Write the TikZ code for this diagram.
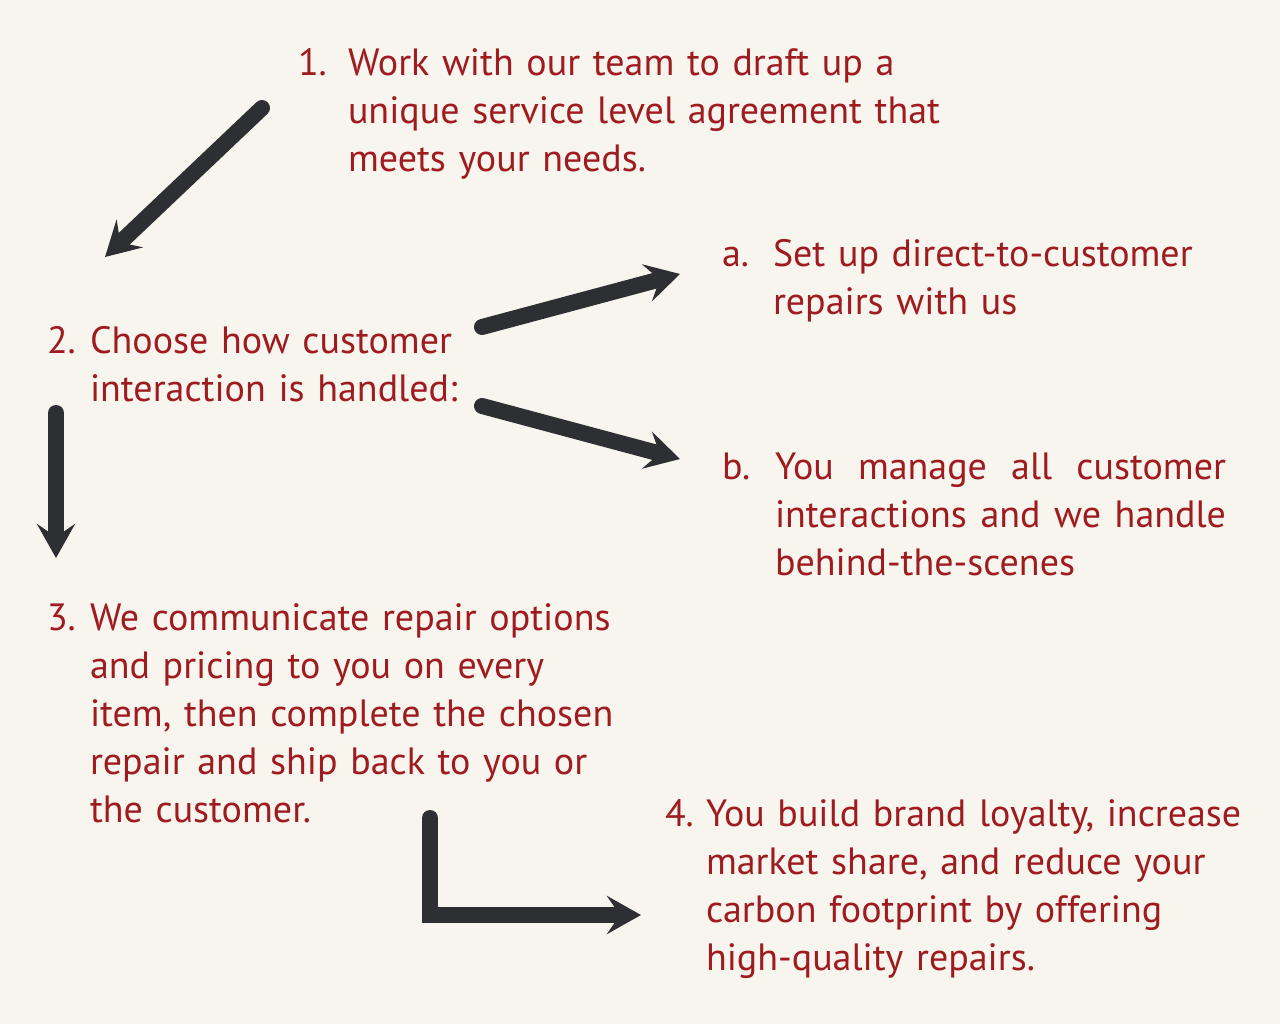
\documentclass[tikz,border=0pt]{standalone}
\usepackage{fontspec}
\setmainfont{PT Sans}
\usetikzlibrary{arrows.meta}
\definecolor{bg}{HTML}{F8F4EE}
\definecolor{txt}{HTML}{9E1B20}
\definecolor{arr}{HTML}{2E2F33}
\begin{document}
\begin{tikzpicture}[x=1pt,y=-1pt,
  lbl/.style={inner sep=0pt, outer sep=0pt, anchor=base west, text=txt, font=\fontsize{38}{48}\selectfont},
  blk/.style={lbl, align=left, text width=620pt},
  bigarrow/.style={draw=arr, line width=16pt, line cap=round, line join=miter,
    -{Stealth[length=34pt,width=38pt,inset=13pt]}}]
\fill[bg] (0,0) rectangle (1280,1024);
\useasboundingbox (0,0) rectangle (1280,1024);

% item 1
\node[lbl] (n1) at (298,76) {1.};
\node[blk] (t1) at (348,76) {Work with our team to draft up a\\unique service level agreement that\\meets your needs.};
% item a
\node[lbl] (na) at (722,267) {a.};
\node[blk] (ta) at (773,267) {Set up direct-to-customer\\repairs with us};
% item 2
\node[lbl] (n2) at (47,353) {2.};
\node[blk] (t2) at (90,353) {Choose how customer\\interaction is handled:};
% item b
\node[lbl] (nb) at (722,479) {b.};
\node[blk] (tb) at (775,479) {\leavevmode\hbox to 451pt{You\hfill manage\hfill all\hfill customer}\\\leavevmode\hbox to 451pt{interactions\hfill and\hfill we\hfill handle}\\behind-the-scenes};
% item 3
\node[lbl] (n3) at (47,630) {3.};
\node[blk] (t3) at (90,630) {We communicate repair options\\and pricing to you on every\\item, then complete the chosen\\repair and ship back to you or\\the customer.};
% item 4
\node[lbl] (n4) at (665,826) {4.};
\node[blk] (t4) at (706,826) {You build brand loyalty, increase\\market share, and reduce your\\carbon footprint by offering\\high-quality repairs.};

% arrow end points
\coordinate (a1s) at (262,108);
\coordinate (a1e) at (105,257);
\coordinate (aas) at (482,327);
\coordinate (aae) at (680,274);
\coordinate (abs) at (482,406);
\coordinate (abe) at (680,459);
\coordinate (a2s) at (56,413);
\coordinate (a2e) at (56,558);
\coordinate (a3s) at (430,818);
\coordinate (a3e) at (641,915);

\draw[bigarrow] (a1s) -- (a1e);
\draw[bigarrow] (aas) -- (aae);
\draw[bigarrow] (abs) -- (abe);
\draw[bigarrow] (a2s) -- (a2e);
\draw[bigarrow] (a3s) |- (a3e);
\end{tikzpicture}
\end{document}
